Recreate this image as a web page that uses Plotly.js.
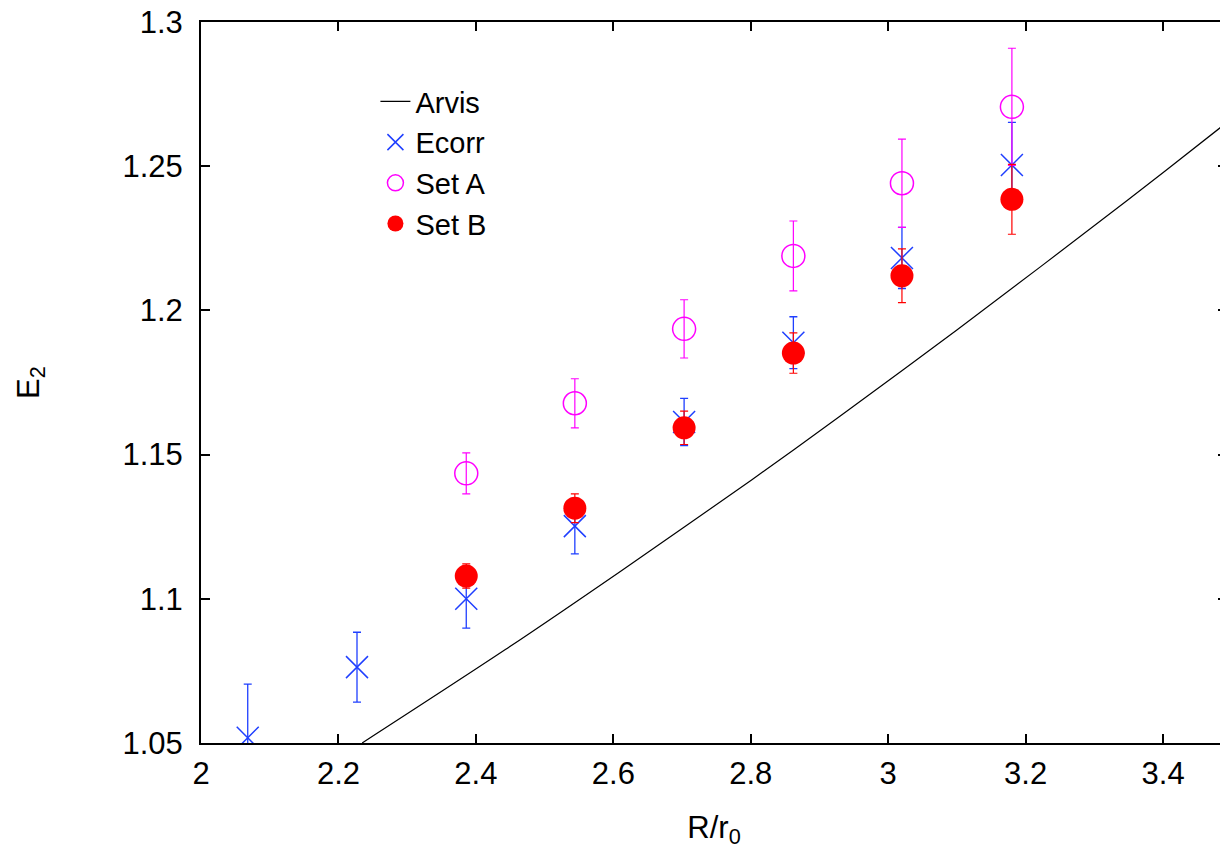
<!DOCTYPE html>
<html>
<head>
<meta charset="utf-8">
<script src="https://cdn.plot.ly/plotly-3.0.1.min.js"></script>
<style>
html, body { margin: 0; padding: 0; overflow: hidden; background: #fff; }
#chart { width: 1228px; height: 853px; }
</style>
</head>
<body>
<div id="chart"></div>
<script>
// Data
const rValues = [2.068, 2.227, 2.386, 2.544, 2.703, 2.862, 3.020, 3.180];
const ecorrE2 = [1.0518, 1.0763, 1.1000, 1.1252, 1.1613, 1.1888, 1.2182, 1.2504];
const ecorrErr = [0.0186, 0.0121, 0.0102, 0.0096, 0.0082, 0.0090, 0.0106, 0.0148];

const setR = [2.386, 2.544, 2.703, 2.862, 3.020, 3.180];
const setAE2 = [1.1435, 1.1678, 1.1936, 1.2189, 1.2441, 1.2706];
const setAErr = [0.0071, 0.0085, 0.0101, 0.0121, 0.0153, 0.0203];
const setBE2 = [1.1079, 1.1314, 1.1593, 1.1852, 1.2120, 1.2385];
const setBErr = [0.0042, 0.0050, 0.0058, 0.0070, 0.0093, 0.0121];

const arvisR = [2.2345, 2.4429, 2.6102, 2.8017, 2.9302, 3.0999, 3.3472, 3.4829, 3.50];
const arvisE2 = [1.0500, 1.0824, 1.1095, 1.1413, 1.1634, 1.1932, 1.2380, 1.2633, 1.2665];

const xTicks = [2, 2.2, 2.4, 2.6, 2.8, 3, 3.2, 3.4];
const xTickText = ['2', '2.2', '2.4', '2.6', '2.8', '3', '3.2', '3.4'];
const yTicks = [1.05, 1.1, 1.15, 1.2, 1.25, 1.3];
const yTickText = ['1.05', '1.1', '1.15', '1.2', '1.25', '1.3'];

const FONT = '"Liberation Sans", Arial, Helvetica, sans-serif';

const traces = [
  {
    name: 'Arvis', x: arvisR, y: arvisE2, type: 'scatter', mode: 'lines',
    line: { color: '#000000', width: 1.2, shape: 'spline', smoothing: 0.8 }
  },
  {
    name: 'Ecorr', x: rValues, y: ecorrE2, type: 'scatter', mode: 'markers',
    marker: { symbol: 'x-thin-open', size: 22, color: '#1f3fff', line: { color: '#1f3fff', width: 1.5 } },
    error_y: { type: 'data', array: ecorrErr, visible: true, color: '#1f3fff', thickness: 1.3, width: 4 }
  },
  {
    name: 'Set A', x: setR, y: setAE2, type: 'scatter', mode: 'markers',
    marker: { symbol: 'circle-open', size: 23, color: '#ff00ff', line: { color: '#ff00ff', width: 1.5 } },
    error_y: { type: 'data', array: setAErr, visible: true, color: '#ff00ff', thickness: 1.2, width: 4 }
  },
  {
    name: 'Set B', x: setR, y: setBE2, type: 'scatter', mode: 'markers',
    marker: { symbol: 'circle', size: 23, color: '#ff0000' },
    error_y: { type: 'data', array: setBErr, visible: true, color: '#ff0000', thickness: 1.2, width: 4 }
  }
];

const layout = {
  width: 1228, height: 853,
  margin: { l: 201, r: 1, t: 22, b: 110 },
  paper_bgcolor: '#ffffff', plot_bgcolor: '#ffffff',
  font: { family: FONT, size: 31, color: '#000000' },
  showlegend: true,
  legend: {
    x: 0.17, y: 0.925, xanchor: 'left', yanchor: 'top',
    font: { family: FONT, size: 29, color: '#000000' },
    bgcolor: 'rgba(0,0,0,0)', tracegroupgap: 0
  },
  xaxis: {
    range: [2, 3.493], tickmode: 'array', tickvals: xTicks, ticktext: xTickText,
    ticks: 'inside', ticklen: 9, tickwidth: 2, tickcolor: '#000',
    showline: true, linewidth: 2, linecolor: '#000', mirror: 'ticks',
    showgrid: false, zeroline: false,
    tickfont: { family: FONT, size: 31 },
    ticklabelstandoff: 2,
    title: { text: 'R/r<sub>0</sub>', font: { family: FONT, size: 31 }, standoff: 26 }
  },
  yaxis: {
    range: [1.05, 1.3], tickmode: 'array', tickvals: yTicks, ticktext: yTickText,
    ticks: 'inside', ticklen: 9, tickwidth: 2, tickcolor: '#000',
    showline: true, linewidth: 2, linecolor: '#000', mirror: 'ticks',
    showgrid: false, zeroline: false,
    tickfont: { family: FONT, size: 31 },
    ticklabelstandoff: 10,
    title: { text: 'E<sub>2</sub>', font: { family: FONT, size: 31 }, standoff: 74 }
  }
};

Plotly.newPlot('chart', traces, layout, { staticPlot: true, displayModeBar: false });
</script>
</body>
</html>
